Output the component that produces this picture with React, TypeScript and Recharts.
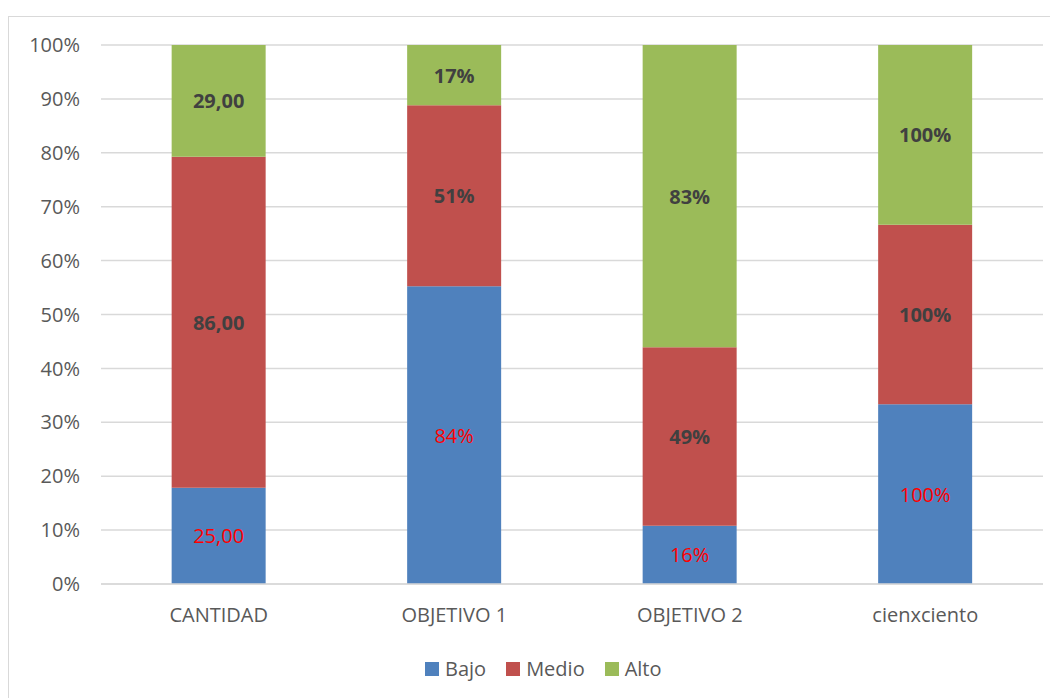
import { BarChart, Bar, XAxis, YAxis, CartesianGrid, LabelList } from 'recharts'

const categories = ['CANTIDAD', 'OBJETIVO 1', 'OBJETIVO 2', 'cienxciento']
const bajo = [25, 84, 16, 100]
const medio = [86, 51, 49, 100]
const alto = [29, 17, 83, 100]
// CANTIDAD is shown as a count, the rest as percents
const labelFormats = ['decimal', 'percent', 'percent', 'percent']
const yTicks = [0, 0.1, 0.2, 0.3, 0.4, 0.5, 0.6, 0.7, 0.8, 0.9, 1]

const series = [
  { key: 'Bajo', values: bajo, color: '#4F81BD', labelColor: '#FF0000', bold: false },
  { key: 'Medio', values: medio, color: '#C0504D', labelColor: '#404040', bold: true },
  { key: 'Alto', values: alto, color: '#9BBB59', labelColor: '#404040', bold: true },
]

const data = categories.map((name, i) => ({
  name,
  Bajo: bajo[i],
  Medio: medio[i],
  Alto: alto[i],
}))

const FONT = '"Open Sans", sans-serif'

function formatLabel(v: number, i: number) {
  if (labelFormats[i] === 'decimal') return v.toFixed(2).replace('.', ',')
  return `${v}%`
}

function makeLabel(values: number[], color: string, bold: boolean) {
  return (props: any) => {
    const { x, y, width, height, index } = props
    return (
      <text
        x={Number(x) + Number(width) / 2}
        y={Number(y) + Number(height) / 2}
        textAnchor="middle"
        dominantBaseline="central"
        fill={color}
        fontSize={20}
        fontWeight={bold ? 700 : 400}
        fontFamily={FONT}
      >
        {formatLabel(values[index], index)}
      </text>
    )
  }
}

function LegendRow() {
  return (
    <div
      style={{
        position: 'absolute',
        top: 638,
        left: 416,
        display: 'flex',
        gap: 20,
        fontFamily: FONT,
        fontSize: 20,
        color: '#595959',
      }}
    >
      {series.map((s) => (
        <div key={s.key} style={{ display: 'flex', alignItems: 'center', gap: 6 }}>
          <span style={{ width: 14, height: 14, background: s.color, display: 'inline-block' }} />
          <span>{s.key}</span>
        </div>
      ))}
    </div>
  )
}

export default function App() {
  return (
    <div
      style={{
        marginTop: 8,
        width: 1060,
        height: 700,
        border: '1.5px solid #D9D9D9',
        boxSizing: 'border-box',
        position: 'relative',
        background: '#fff',
      }}
    >
      <BarChart
        width={1050}
        height={690}
        data={data}
        stackOffset="expand"
        barCategoryGap="30%"
        margin={{ top: 28, right: 16, bottom: 93, left: 0 }}
      >
        <CartesianGrid vertical={false} stroke="#D9D9D9" strokeWidth={1.5} />
        <XAxis
          dataKey="name"
          axisLine={{ stroke: '#D9D9D9', strokeWidth: 1.5 }}
          tickLine={false}
          tickSize={0}
          tickMargin={24}
          tick={{ fill: '#595959', fontSize: 20, fontFamily: FONT }}
        />
        <YAxis
          width={92}
          domain={[0, 1]}
          ticks={yTicks}
          axisLine={false}
          tickLine={false}
          tickSize={0}
          tickMargin={21}
          tickFormatter={(v: number) => `${Math.round(v * 100)}%`}
          tick={{ fill: '#595959', fontSize: 20, fontFamily: FONT }}
        />
        {series.map((s) => (
          <Bar key={s.key} dataKey={s.key} stackId="a" fill={s.color} isAnimationActive={false}>
            <LabelList content={makeLabel(s.values, s.labelColor, s.bold)} />
          </Bar>
        ))}
      </BarChart>
      <LegendRow />
    </div>
  )
}
